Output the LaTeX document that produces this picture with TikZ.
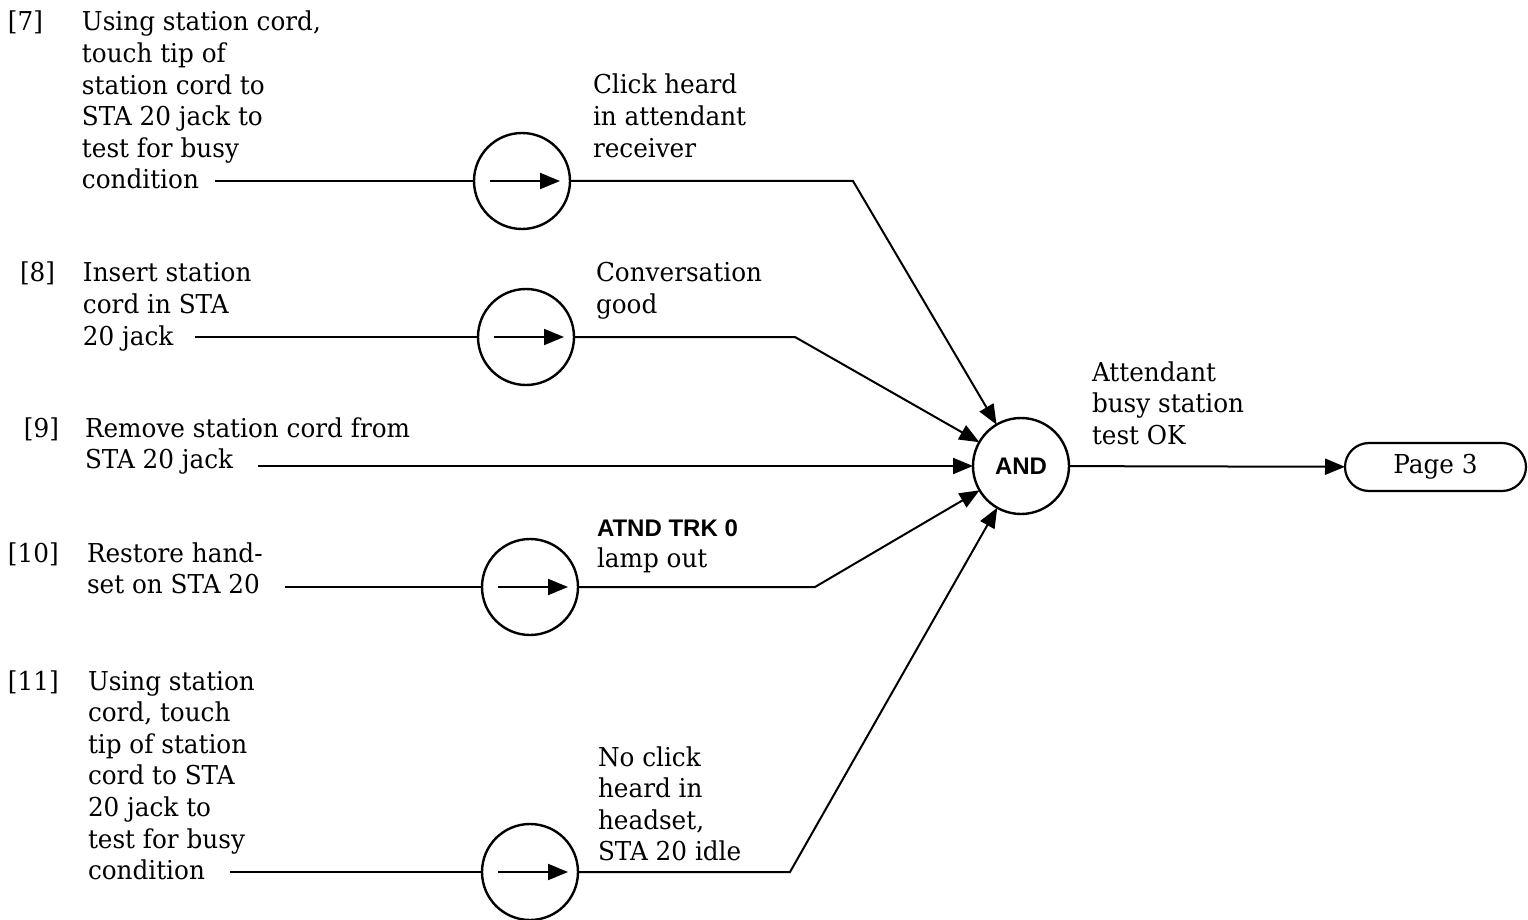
\documentclass[tikz,border=0pt]{standalone}
\usepackage{fontspec}
\setmainfont{DejaVu Serif}[FakeStretch=0.95]
\newfontfamily\gatesans{Liberation Sans}
\usetikzlibrary{arrows.meta}
% a top-aligned block of left-aligned lines, baseline on its first line
\newcommand\txtlines[1]{\begin{tabular}[t]{@{}l@{}}#1\end{tabular}}

\begin{document}
\begin{tikzpicture}[x=0.5pt,y=-0.5pt,
  line width=1pt,
  every node/.style={inner sep=0pt, outer sep=0pt},
  txt/.style={anchor=base west, font=\fontsize{13}{15.8}\selectfont},
  gate/.style={circle, draw, minimum size=48pt, line width=1.2pt},
  tip/.style={-{Triangle[length=10pt,width=8pt]}},
  sanslbl/.style={font=\gatesans\bfseries\fontsize{12}{14}\selectfont},
]
\useasboundingbox (0,0) rectangle (1528,920);

% step numbers and step texts
\node[txt] (n7) at (8,31) {[7]};
\node[txt] (t7) at (82,31) {\txtlines{Using station cord,\\ touch tip of\\ station cord to\\ STA 20 jack to\\ test for busy\\ condition}};
\node[txt] (n8) at (20,282) {[8]};
\node[txt] (t8) at (83,282) {\txtlines{Insert station\\ cord in STA\\ 20 jack}};
\node[txt] (n9) at (24,437) {[9]};
\node[txt] (t9) at (85,437) {\txtlines{Remove station cord from\\ STA 20 jack}};
\node[txt] (n10) at (8,562) {[10]};
\node[txt] (t10) at (87,562) {\txtlines{Restore hand-\\ set on STA 20}};
\node[txt] (n11) at (8,690) {[11]};
\node[txt] (t11) at (88,690) {\txtlines{Using station\\ cord, touch\\ tip of station\\ cord to STA\\ 20 jack to\\ test for busy\\ condition}};

% line starts after the last word of each step
\coordinate (s7) at (215,181);
\coordinate (s8) at (195,337);
\coordinate (s9) at (258,466);
\coordinate (s10) at (285,587);
\coordinate (s11) at (230,872);

% check gates
\node[gate] (g7) at (522,181) {};
\node[gate] (g8) at (526,337) {};
\node[gate] (g10) at (530,587) {};
\node[gate] (g11) at (530,872) {};
\foreach \g in {g7,g8,g10,g11}
  \draw[tip] ([xshift=-16pt]\g.center) -- ([xshift=19pt]\g.center);

% result labels
\node[txt] (l7) at (593,94) {\txtlines{Click heard\\ in attendant\\ receiver}};
\node[txt] (l8) at (596,282) {\txtlines{Conversation\\ good}};
\node[txt] (l10) at (597,536) {\txtlines{{\gatesans\bfseries\fontsize{12}{14}\selectfont ATND TRK 0}\\ lamp out}};
\node[txt] (l11) at (598,766) {\txtlines{No click\\ heard in\\ headset,\\ STA 20 idle}};

% AND gate and result
\node[gate, sanslbl] (and) at (1021,466) {AND};
\node[txt] (lres) at (1092,381) {\txtlines{Attendant\\ busy station\\ test OK}};
\node[draw, line width=1.1pt, rounded corners=12pt, minimum width=90.5pt, minimum height=24pt,
      font=\fontsize{13}{15.8}\selectfont] (page) at (1435.5,467) {Page 3};

% bend points
\coordinate (b7) at (853,181);
\coordinate (b8) at (795,337);
\coordinate (b10) at (815,587);
\coordinate (b11) at (790,872);

% connectors
\draw (s7) -- (g7);
\draw (s8) -- (g8);
\draw (s10) -- (g10);
\draw (s11) -- (g11);
\draw[tip] (g7) -- (b7) -- (and);
\draw[tip] (g8) -- (b8) -- (and);
\draw[tip] (s9) -- (and);
\draw[tip] (g10) -- (b10) -- (and);
\draw[tip] (g11) -- (b11) -- (and);
\draw[tip] (and) -- (page);
\end{tikzpicture}
\end{document}
